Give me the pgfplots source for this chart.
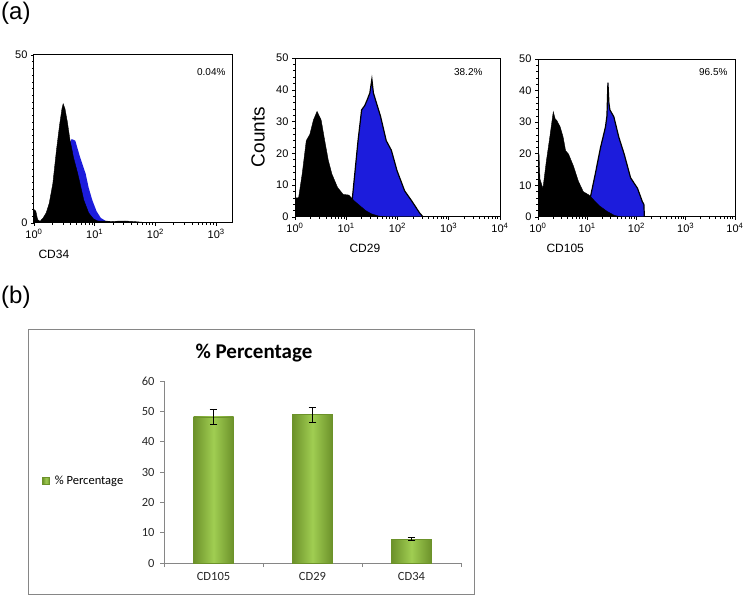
\documentclass[border=0pt]{standalone}
\usepackage{fontspec}
\setmainfont{Liberation Sans}
\newfontfamily\calibri{Carlito}
\usepackage{pgfplots}
\pgfplotsset{compat=1.18}
\usepackage{pgfplotstable}

\definecolor{histblue}{RGB}{28,28,220}
\definecolor{bardark}{RGB}{108,146,42}
\definecolor{barlight}{RGB}{160,205,82}
\definecolor{chartgray}{RGB}{134,134,134}

% x in decades (log10 of fluorescence), y in counts
\pgfplotstableread{
x y
0.00 4
0.03 3.5
0.06 1
0.10 0.5
0.15 1.5
0.20 3
0.25 5.8
0.31 11.7
0.37 21.7
0.42 29
0.46 34
0.48 35.5
0.51 34
0.55 30
0.59 25
0.65 19.5
0.72 14.7
0.78 10
0.82 6.8
0.90 3
0.98 1.2
1.05 0.6
1.30 0.5
1.50 0.6
1.67 0.4
1.80 0.2
2.00 0.1
2.50 0.1
3.26 0
}\ctrlA
\pgfplotstableread{
x y
0.30 0
0.45 12
0.55 22
0.62 25
0.68 24.5
0.76 19.5
0.85 14.7
0.90 10.5
0.96 6.8
1.03 3.5
1.10 1.5
1.20 0.4
1.30 0
}\sampA
\pgfplotstableread{
x y
0.00 6
0.07 6
0.14 13.5
0.22 24
0.29 26
0.36 30.5
0.43 33.2
0.51 30.5
0.58 24
0.65 17.8
0.72 13.5
0.83 9.3
0.94 7.1
1.05 6.9
1.16 5
1.27 3.5
1.38 2
1.49 1
1.63 0.3
1.80 0
}\ctrlB
\pgfplotstableread{
x y
1.05 0
1.12 6
1.23 24
1.30 33.7
1.36 35
1.41 36.9
1.46 39
1.50 43.3
1.53 39
1.56 37.4
1.67 31.6
1.78 24
1.88 21
1.99 14.6
2.14 8.2
2.28 5
2.43 1.3
2.50 0
}\sampB
\pgfplotstableread{
x y
0.00 6.5
0.02 20
0.04 12
0.10 9
0.17 17.7
0.24 25.3
0.31 33.3
0.35 31
0.38 30.6
0.45 28.5
0.51 25.3
0.56 21
0.62 19.9
0.72 16.1
0.82 11.3
0.92 8
1.03 7
1.13 5.4
1.25 3.5
1.40 1.8
1.55 0.5
1.70 0
}\ctrlC
\pgfplotstableread{
x y
1.00 0
1.06 6
1.16 13.4
1.27 22
1.37 28.5
1.40 32
1.42 42.5
1.44 36
1.46 33.9
1.54 31.7
1.64 25.3
1.75 19.9
1.88 12.4
2.02 9.1
2.12 4.8
2.15 4
2.16 0
}\sampC

\pgfplotsset{
  facs/.style={
    scale only axis, anchor=south west,
    xmin=0, ymin=0, ymax=50,
    axis line style={black, line width=1pt},
    tick align=outside, tick pos=left,
    major tick length=3pt, minor tick length=1.6pt,
    tick style={black, line width=0.6pt},
    xtick={0,1,2,3,4},
    xticklabels={10\textsuperscript{0},10\textsuperscript{1},10\textsuperscript{2},10\textsuperscript{3},10\textsuperscript{4}},
    minor xtick={0.301,0.477,0.602,0.699,0.778,0.845,0.903,0.954,
      1.301,1.477,1.602,1.699,1.778,1.845,1.903,1.954,
      2.301,2.477,2.602,2.699,2.778,2.845,2.903,2.954,
      3.301,3.477,3.602,3.699,3.778,3.845,3.903,3.954},
    ticklabel style={font=\fontsize{11}{11}\selectfont},
    /pgf/number format/assume math mode=true,
  },
  barcd/.style={ybar, bar width=40pt, draw=bardark,
    left color=bardark, right color=bardark, middle color=barlight,
    error bars/.cd, y dir=both, y explicit,
    error bar style={black, line width=0.5pt},
    error mark options={rotate=90, black, mark size=3.8pt, line width=0.5pt}},
}

\begin{document}
\begin{tikzpicture}
\path[use as bounding box] (0pt,0pt) rectangle (750pt,598pt);

\node[anchor=west, font=\fontsize{24}{24}\selectfont, inner sep=0pt] at (1pt,585pt) {(a)};
\node[anchor=west, font=\fontsize{24}{24}\selectfont, inner sep=0pt] at (1pt,301pt) {(b)};

% CD34
\begin{axis}[facs, at={(34pt,375pt)}, width=198pt, height=168pt,
  xmax=3.26, ytick={0,50}, minor y tick num=24]
\addplot[fill=histblue, draw=none] table {\sampA} \closedcycle;
\addplot[fill=black, draw=black, line width=0.4pt] table {\ctrlA} \closedcycle;
\end{axis}
\node[anchor=east, font=\fontsize{10}{10}\selectfont] at (229pt,526pt) {0.04\%};
\node[anchor=west, font=\fontsize{12}{12}\selectfont] at (35pt,344pt) {CD34};

% CD29
\begin{axis}[facs, at={(295pt,381pt)}, width=205pt, height=159pt,
  xmax=4, ytick={0,10,...,50}, minor y tick num=4]
\addplot[fill=histblue, draw=black, line width=1.2pt] table {\sampB} \closedcycle;
\addplot[fill=black, draw=black, line width=0.4pt] table {\ctrlB} \closedcycle;
\end{axis}
\node[anchor=east, font=\fontsize{10}{10}\selectfont] at (486pt,526pt) {38.2\%};
\node[anchor=west, font=\fontsize{12}{12}\selectfont] at (346pt,350pt) {CD29};
\node[rotate=90, font=\fontsize{19}{19}\selectfont] at (258pt,461pt) {Counts};

% CD105
\begin{axis}[facs, at={(538pt,381pt)}, width=197pt, height=158pt,
  xmax=4, ytick={0,10,...,50}, minor y tick num=4]
\addplot[fill=histblue, draw=black, line width=1.2pt] table {\sampC} \closedcycle;
\addplot[fill=black, draw=black, line width=0.4pt] table {\ctrlC} \closedcycle;
\end{axis}
\node[anchor=east, font=\fontsize{10}{10}\selectfont] at (731pt,526pt) {96.5\%};
\node[anchor=west, font=\fontsize{12}{12}\selectfont] at (543pt,350pt) {CD105};

% (b) bar chart
\draw[chartgray, line width=0.7pt] (28pt,4pt) rectangle (474pt,269pt);
\node[font=\calibri\bfseries\fontsize{21}{21}\selectfont] at (254pt,245pt) {\% Percentage};

\begin{axis}[scale only axis, anchor=south west, at={(164pt,35pt)},
  width=297pt, height=182pt,
  xmin=-0.5, xmax=2.5, ymin=0, ymax=60,
  axis x line*=bottom, axis y line*=left,
  axis line style={-, chartgray, line width=0.7pt},
  tick align=outside, major tick length=4pt,
  tick style={chartgray, line width=0.7pt},
  ytick={0,10,...,60},
  yticklabel style={xshift=-2pt},
  xtick={-0.5,0.5,1.5,2.5}, xticklabels={},
  extra x ticks={0,1,2}, extra x tick labels={CD105,CD29,CD34},
  extra x tick style={major tick length=0pt, xticklabel style={yshift=-6pt}},
  ticklabel style={font=\calibri\fontsize{12.5}{12.5}\selectfont, text=black!85},
  /pgf/number format/assume math mode=true,
  legend style={at={(axis description cs:-0.42,0.45)}, anchor=west,
    draw=none, fill=none, font=\calibri\fontsize{12.5}{13}\selectfont},
  legend image code/.code={\draw[draw=bardark, left color=bardark, right color=bardark, middle color=barlight] (0pt,-3.5pt) rectangle (7pt,3.5pt); \path (10pt,0pt);},
]
\addplot[barcd] coordinates {(0,48.2) +- (0,2.4)};
\addplot[forget plot, barcd] coordinates {(1,48.9) +- (0,2.5)};
\addplot[forget plot, barcd] coordinates {(2,7.9) +- (0,0.5)};
\legend{\% Percentage}
\end{axis}
\end{tikzpicture}
\end{document}
